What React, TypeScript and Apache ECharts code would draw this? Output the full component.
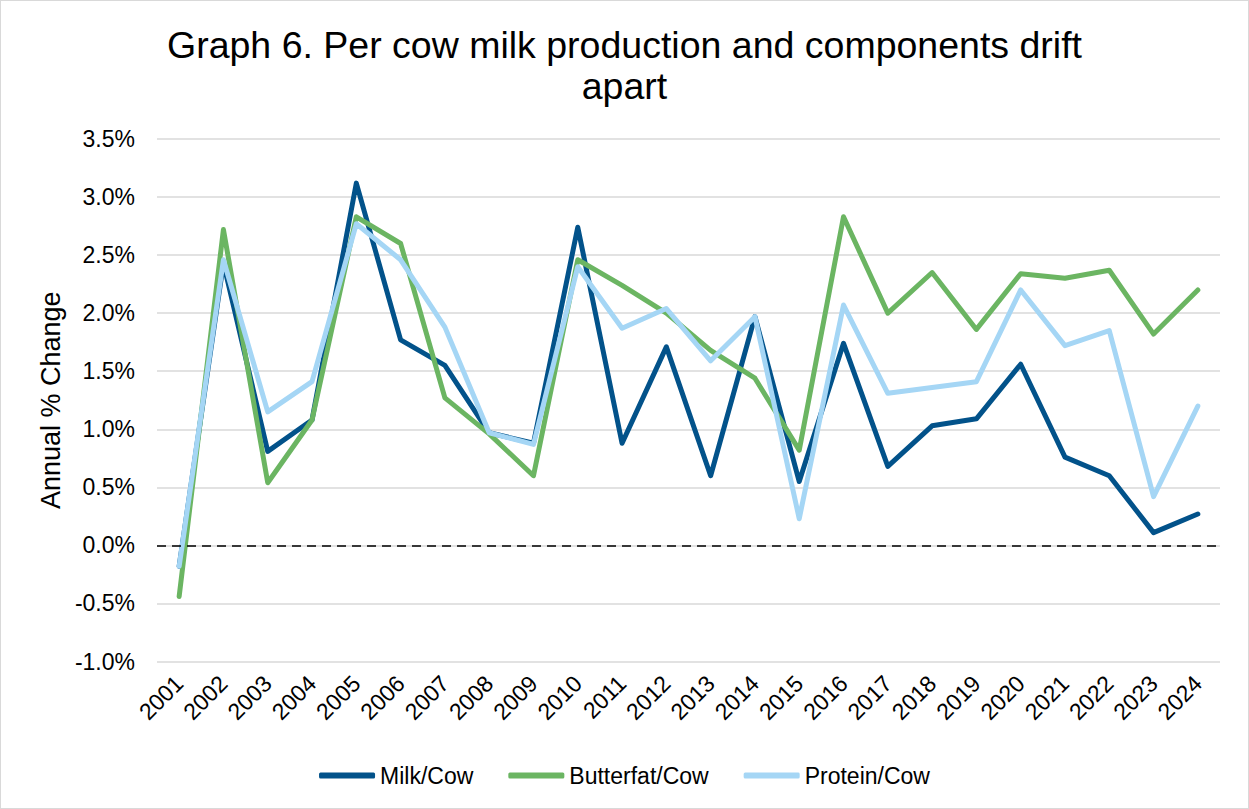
import React, { useEffect, useRef } from "react";
import * as echarts from "echarts";

const years = ["2001","2002","2003","2004","2005","2006","2007","2008","2009","2010","2011","2012","2013","2014","2015","2016","2017","2018","2019","2020","2021","2022","2023","2024"];
const milkPerCow = [-0.18, 2.43, 0.81, 1.08, 3.12, 1.77, 1.55, 0.97, 0.88, 2.74, 0.88, 1.71, 0.60, 1.97, 0.55, 1.74, 0.68, 1.03, 1.09, 1.56, 0.76, 0.60, 0.11, 0.27];
const butterfatPerCow = [-0.44, 2.72, 0.54, 1.08, 2.83, 2.60, 1.27, 0.96, 0.60, 2.46, 2.24, 2.00, 1.68, 1.44, 0.82, 2.83, 2.00, 2.35, 1.86, 2.34, 2.30, 2.37, 1.82, 2.20];
const proteinPerCow = [-0.18, 2.46, 1.15, 1.41, 2.77, 2.46, 1.88, 0.97, 0.87, 2.40, 1.87, 2.04, 1.59, 1.97, 0.23, 2.07, 1.31, 1.36, 1.41, 2.20, 1.72, 1.85, 0.42, 1.20];

const FONT = "'Liberation Sans', Arial, Helvetica, sans-serif";

export default function App() {
  const ref = useRef<HTMLDivElement>(null);
  useEffect(() => {
    if (!ref.current) return;
    const chart = echarts.init(ref.current, undefined, { renderer: "svg" });
    const lineSeries = (name: string, data: number[], color: string, extra: any = {}) => ({
      name,
      type: "line",
      data,
      symbol: "none",
      lineStyle: { color, width: 5, cap: "round", join: "round" },
      itemStyle: { color },
      ...extra,
    });
    chart.setOption({
      animation: false,
      textStyle: { fontFamily: FONT },
      title: {
        text: "Graph 6. Per cow milk production and components drift\napart",
        left: "center",
        top: 19,
        textStyle: { fontFamily: FONT, fontSize: 37.5, fontWeight: "normal", color: "#000", lineHeight: 41 },
      },
      legend: {
        data: ["Milk/Cow", "Butterfat/Cow", "Protein/Cow"],
        top: 759,
        left: "center",
        icon: "roundRect",
        itemWidth: 56,
        itemHeight: 6,
        itemGap: 35,
        textStyle: { fontFamily: FONT, fontSize: 23, color: "#000" },
      },
      grid: { left: 157, right: 29, top: 139, bottom: 147.5 },
      xAxis: {
        type: "category",
        data: years,
        boundaryGap: true,
        axisLine: { show: false },
        axisTick: { show: false },
        axisLabel: { rotate: 45, fontSize: 23, color: "#000", fontFamily: FONT, margin: 18, interval: 0 },
      },
      yAxis: {
        type: "value",
        min: -1,
        max: 3.5,
        interval: 0.5,
        name: "Annual % Change",
        nameLocation: "middle",
        nameGap: 92,
        nameTextStyle: { fontFamily: FONT, fontSize: 27, color: "#000" },
        axisLine: { show: false },
        axisTick: { show: false },
        axisLabel: { fontSize: 23, color: "#000", fontFamily: FONT, margin: 22, formatter: (v: number) => v.toFixed(1) + "%" },
        splitLine: { lineStyle: { color: "#d9d9d9", width: 1.5 } },
      },
      series: [
        lineSeries("Milk/Cow", milkPerCow, "#02528A", {
          markLine: {
            silent: true,
            symbol: "none",
            label: { show: false },
            lineStyle: { color: "#000", width: 1.5, type: [9, 6] },
            data: [{ yAxis: 0 }],
          },
        }),
        lineSeries("Butterfat/Cow", butterfatPerCow, "#6BB562"),
        lineSeries("Protein/Cow", proteinPerCow, "#A5D6F5"),
      ],
    });
    return () => chart.dispose();
  }, []);
  return (
    <div style={{ position: "absolute", left: 0, top: 0, width: 1249, height: 809, boxSizing: "border-box", border: "1px solid #d9d9d9", background: "#fff" }}>
      <div ref={ref} style={{ position: "absolute", left: -1, top: -1, width: 1249, height: 809 }} />
    </div>
  );
}
